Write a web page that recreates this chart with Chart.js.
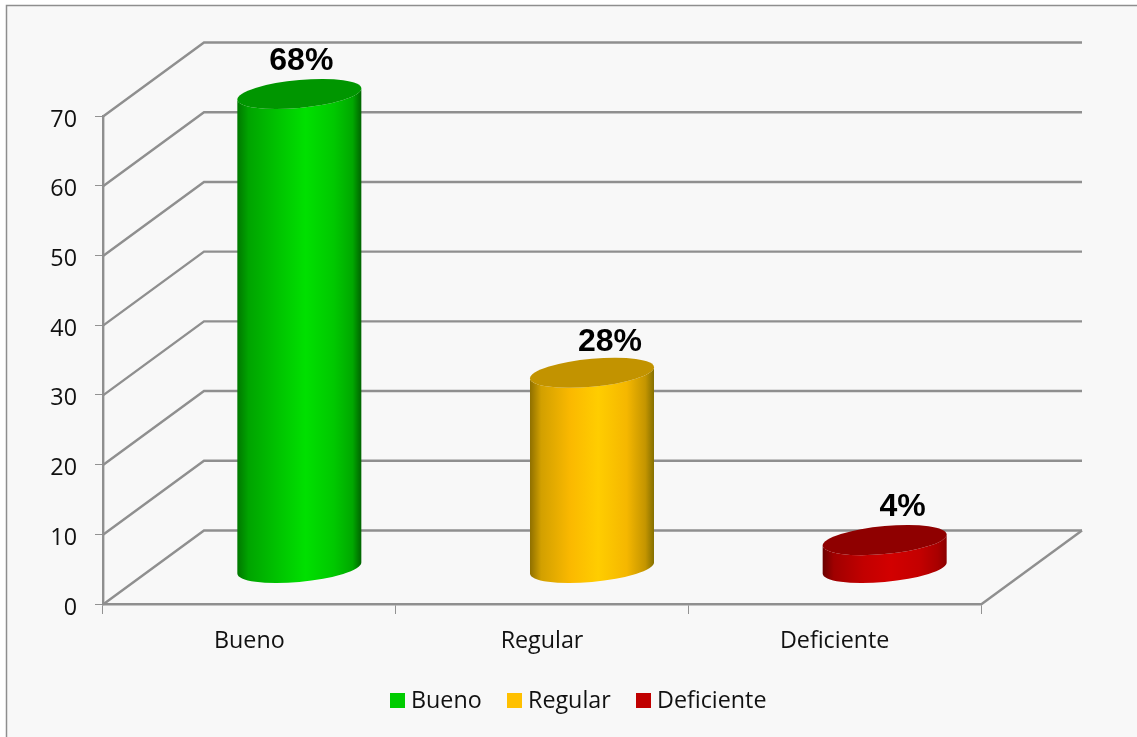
<!DOCTYPE html>
<html>
<head>
<meta charset="utf-8">
<style>html,body{margin:0;padding:0;background:#fff}canvas{display:block}#w{width:1137px;height:737px}</style>
<script src="https://cdn.jsdelivr.net/npm/chart.js@4"></script>
</head>
<body>
<div id="w"><canvas id="c" width="1137" height="737"></canvas></div>
<script>
const categories = ['Bueno', 'Regular', 'Deficiente'];
const values = [68, 28, 4];
const valueLabels = ['68%', '28%', '4%'];
const yTicks = [0, 10, 20, 30, 40, 50, 60, 70];
const legendColors = ['#00cc00', '#ffc000', '#c00000'];
const topColors = ['#009600', '#c29300', '#8f0000'];
const sideStops = [
  ['#007800', '#00a400', '#00c400', '#00e000', '#00c800', '#00a800', '#006400'],
  ['#8f7000', '#d2a000', '#fbb900', '#ffcd00', '#f5b700', '#c49500', '#857000'],
  ['#6a0000', '#a00000', '#c20000', '#d20000', '#c40000', '#a80000', '#8a0000']
];
const gradientStops = [0, 0.09, 0.33, 0.55, 0.78, 0.93, 1];
const labelShiftX = [2, 18, 18];
const labelLift = [33, 31, 33];
const legendBoxX = [390, 507, 636];
const DEPTH_X = 101, DEPTH_Y = 74;
const GRID = '#8f8f8f', FONT = '"Open Sans"';

const scene = {
  id: 'scene',
  beforeDraw(chart) {
    const c = chart.ctx;
    c.save();
    c.fillStyle = '#ffffff'; c.fillRect(0, 0, chart.width, chart.height);
    c.fillStyle = '#f8f8f8'; c.fillRect(6, 5, chart.width, chart.height);
    c.strokeStyle = '#8e8e8e'; c.lineWidth = 1.5;
    c.beginPath(); c.moveTo(6.5, chart.height); c.lineTo(6.5, 5.5); c.lineTo(chart.width, 5.5); c.stroke();
    const y = chart.scales.y, x = chart.scales.x;
    c.strokeStyle = GRID; c.lineWidth = 2.4;
    yTicks.forEach(v => {
      const py = y.getPixelForValue(v) + 0.5;
      c.beginPath();
      c.moveTo(x.left, py);
      c.lineTo(x.left + DEPTH_X, py - DEPTH_Y);
      c.lineTo(x.right + DEPTH_X, py - DEPTH_Y);
      c.stroke();
    });
    const p0 = y.getPixelForValue(0) + 0.5;
    c.beginPath(); c.moveTo(x.right, p0); c.lineTo(x.right + DEPTH_X, p0 - DEPTH_Y); c.stroke();
    c.restore();
  },
  afterDatasetsDraw(chart) {
    const c = chart.ctx, y = chart.scales.y;
    const els = chart.getDatasetMeta(0).data;
    els.forEach((el, i) => {
      const rx = el.width / 2, ry = 14, skew = -5.5;
      const cx = el.x + DEPTH_X / 2 - 0.5;
      const base = y.getPixelForValue(0) - DEPTH_Y / 2 + 1;
      const top = y.getPixelForValue(values[i]) - DEPTH_Y / 2 + 1;
      const ell = (cy, a0, a1, ccw) => {
        c.save();
        c.transform(rx, skew, 0, ry, cx, cy);
        c.arc(0, 0, 1, a0, a1, ccw);
        c.restore();
      };
      c.save();
      const g = c.createLinearGradient(cx - rx, 0, cx + rx, 0);
      gradientStops.forEach((s, k) => g.addColorStop(s, sideStops[i][k]));
      c.fillStyle = g;
      c.beginPath();
      ell(base, Math.PI, 0, true);
      ell(top, 0, Math.PI, false);
      c.closePath();
      c.fill();
      c.fillStyle = topColors[i];
      c.beginPath();
      ell(top, 0, Math.PI * 2, false);
      c.fill();
      c.fillStyle = '#000';
      c.font = 'bold 32px "Liberation Sans"';
      c.textAlign = 'center'; c.textBaseline = 'middle';
      c.fillText(valueLabels[i], cx + labelShiftX[i], top - labelLift[i]);
      c.restore();
    });
    c.save();
    c.font = '23.3px ' + FONT; c.textBaseline = 'middle'; c.textAlign = 'left';
    categories.forEach((n, i) => {
      c.fillStyle = legendColors[i];
      c.fillRect(legendBoxX[i], 693, 15, 15);
      c.fillStyle = '#111';
      c.fillText(n, legendBoxX[i] + 21, 701);
    });
    c.restore();
  }
};

new Chart(document.getElementById('c'), {
  type: 'bar',
  data: {
    labels: categories,
    datasets: [{ data: values, backgroundColor: 'rgba(0,0,0,0)', borderWidth: 0, barPercentage: 1, categoryPercentage: 0.4237 }]
  },
  options: {
    responsive: false,
    animation: false,
    layout: { padding: { top: 116, right: 156, left: 0, bottom: 0 } },
    plugins: { legend: { display: false }, tooltip: { enabled: false }, title: { display: false } },
    scales: {
      x: {
        afterFit: s => { s.height = 133; },
        grid: { offset: true, drawOnChartArea: false, drawTicks: true, tickLength: 10, color: '#929292', lineWidth: 1 },
        border: { display: true, color: GRID, width: 2.4 },
        ticks: { color: '#111', font: { family: FONT, size: 23.3 }, padding: 13.5, maxRotation: 0 }
      },
      y: {
        min: 0, max: 70,
        afterFit: s => { s.width = 103; },
        grid: { drawOnChartArea: false, drawTicks: true, tickLength: 8, color: '#929292', lineWidth: 1 },
        border: { display: true, color: GRID, width: 2.4 },
        afterBuildTicks: s => { s.ticks = yTicks.map(v => ({ value: v })); },
        ticks: { color: '#111', font: { family: FONT, size: 23.3 }, padding: 18, labelOffset: 4 }
      }
    }
  },
  plugins: [scene]
});
</script>
</body>
</html>
